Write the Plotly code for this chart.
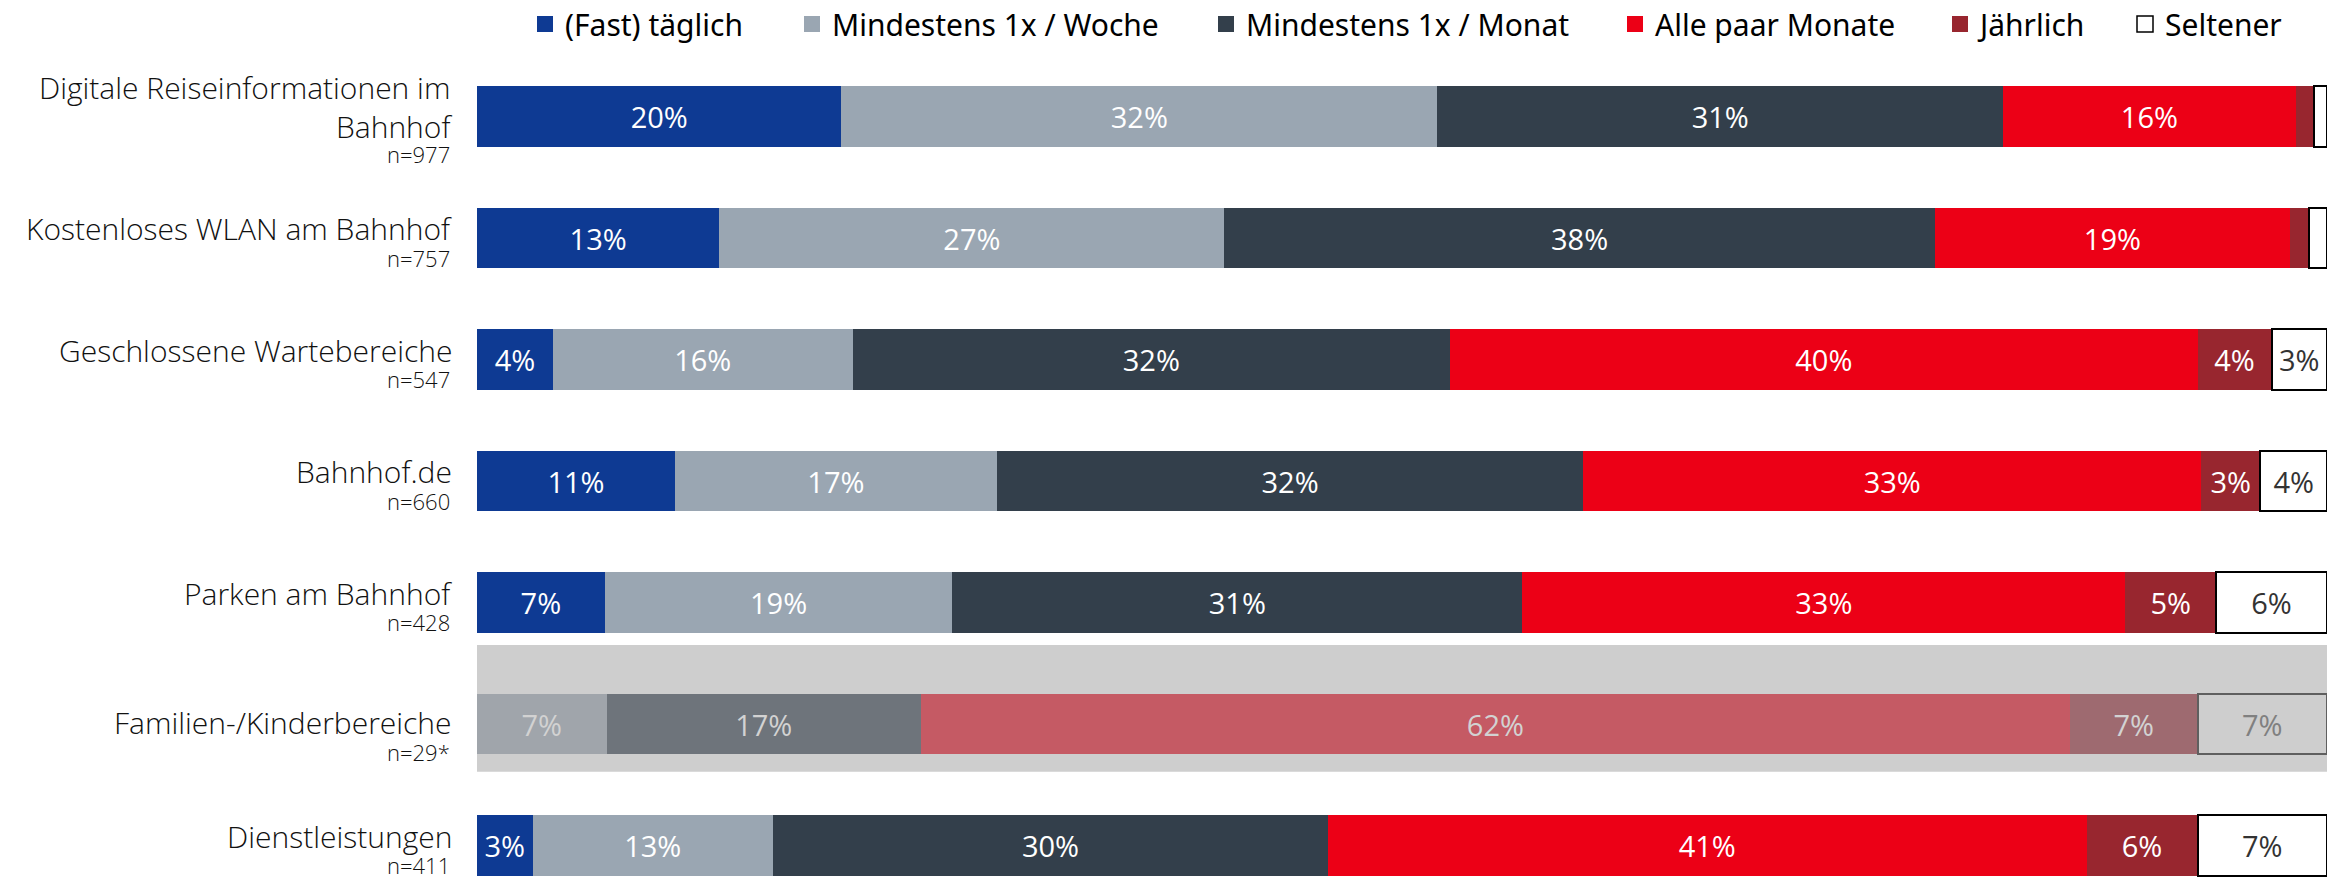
import plotly.graph_objects as go

# ---------------- data ----------------
categories = [
    "Digitale Reiseinformationen im<br>Bahnhof",
    "Kostenloses WLAN am Bahnhof",
    "Geschlossene Wartebereiche",
    "Bahnhof.de",
    "Parken am Bahnhof",
    "Familien-/Kinderbereiche",
    "Dienstleistungen",
]
sample_sizes = ["n=977", "n=757", "n=547", "n=660", "n=428", "n=29*", "n=411"]
series_names = ["(Fast) täglich", "Mindestens 1x / Woche", "Mindestens 1x / Monat",
                "Alle paar Monate", "Jährlich", "Seltener"]
taeglich = [19.7, 13.1, 4.1, 10.7, 6.9, 0.0, 3.0]
woche = [32.2, 27.3, 16.2, 17.4, 18.8, 7.0, 13.0]
monat = [30.6, 38.4, 32.3, 31.7, 30.8, 17.0, 30.0]
monate = [15.8, 19.2, 40.4, 33.4, 32.6, 62.1, 41.0]
jaehrlich = [1.0, 1.0, 4.0, 3.2, 4.9, 6.9, 6.0]
seltener = [0.7, 1.0, 3.0, 3.6, 6.0, 7.0, 7.0]
low_base_row = 5  # small sample (n<30), shown greyed out

series_values = [taeglich, woche, monat, monate, jaehrlich, seltener]

# ---------------- styles ----------------
colors = ["#0E3A93", "#9AA6B2", "#333F4B", "#EC0016", "#98262F", "#FFFFFF"]
dim_colors = ["#8A96B6", "#A0A5AB", "#6E747B", "#C55A64", "#9E6A70", "#CECECE"]
text_colors = ["#FFFFFF", "#FFFFFF", "#FFFFFF", "#FFFFFF", "#FFFFFF", "#333333"]
dim_text_colors = ["#D2D2D2", "#D2D2D2", "#D2D2D2", "#D2D2D2", "#D2D2D2", "#808080"]
legend_centers = [545, 812, 1226, 1635, 1960, 2145]  # px, symbol centres

W, H = 2341, 881
ML, MR, MT, MB = 477, 14, 60, 0
ROW_PX = 121.5
first_center = 116.5
top_units = (first_center - MT) / ROW_PX
bottom_units = -top_units + (H - MT - MB) / ROW_PX

ypos = list(range(len(categories)))

fig = go.Figure()
for k, (name, vals) in enumerate(zip(series_names, series_values)):
    mc = [dim_colors[k] if i == low_base_row else colors[k] for i in ypos]
    tc = [dim_text_colors[k] if i == low_base_row else text_colors[k] for i in ypos]
    if k == 5:
        lc = ["#5F5F5F" if i == low_base_row else "#000000" for i in ypos]
        lw = 2
    else:
        lc = mc
        lw = 0
    texts = [f"{round(v)}%" if v >= 2 else "" for v in vals]
    fig.add_trace(go.Bar(
        name=name,
        x=vals,
        y=ypos,
        orientation="h",
        width=0.494,
        marker=dict(color=mc, line=dict(color=lc, width=lw)),
        text=texts,
        textposition="inside",
        insidetextanchor="middle",
        textangle=0,
        textfont=dict(family="Open Sans", size=29, color=tc),
        hoverinfo="skip",
        showlegend=False,
        cliponaxis=False,
    ))

# legend entries (larger square symbols than bar legends allow)
for k, name in enumerate(series_names):
    fig.add_trace(go.Scatter(
        name=name, x=[None], y=[None], mode="markers",
        marker=dict(symbol="square", size=16, color=colors[k],
                    line=dict(color="#000000", width=1.5 if k == 5 else 0)),
        hoverinfo="skip",
        legend="legend" if k == 0 else f"legend{k + 1}",
    ))

# grey band behind the low-base row
fig.add_shape(type="rect", xref="paper", yref="y", x0=0, x1=1,
              y0=low_base_row - 79 / ROW_PX, y1=low_base_row + 47.7 / ROW_PX,
              fillcolor="#CECECE", line=dict(width=0), layer="below")

# category labels + sample sizes
for i, (cat, n) in enumerate(zip(categories, sample_sizes)):
    nl = cat.count("<br>") + 1
    extra = 8 if i == low_base_row else 0
    n_off = 5 + ((nl - 1) * 36 + 29) / 2 + extra
    main_off = n_off - 29 - (nl - 1) * 36 / 2
    fig.add_annotation(text=cat, xref="paper", x=0, xanchor="right", xshift=-23,
                       yref="y", y=i, yanchor="middle", yshift=-main_off,
                       align="right", showarrow=False,
                       font=dict(family="Open Sans", size=30, color="#111111", weight=300))
    fig.add_annotation(text=n, xref="paper", x=0, xanchor="right", xshift=-25,
                       yref="y", y=i, yanchor="middle", yshift=-n_off,
                       align="right", showarrow=False,
                       font=dict(family="Open Sans", size=22, color="#111111", weight=300))

layout_legends = {}
for k, c in enumerate(legend_centers):
    key = "legend" if k == 0 else f"legend{k + 1}"
    layout_legends[key] = dict(
        orientation="h", xref="container", yref="container",
        x=(c - 20) / W, xanchor="left", y=1 - 24 / H, yanchor="middle",
        font=dict(family="Noto Sans", size=30, color="#000000"),
        bgcolor="rgba(0,0,0,0)", borderwidth=0,
        traceorder="normal",
    )

fig.update_layout(
    width=W, height=H,
    barmode="stack",
    plot_bgcolor="#FFFFFF", paper_bgcolor="#FFFFFF",
    margin=dict(l=ML, r=MR, t=MT, b=MB, pad=0),
    xaxis=dict(range=[0, 100], visible=False, fixedrange=True),
    yaxis=dict(range=[bottom_units, -top_units], visible=False, fixedrange=True),
    showlegend=True,
    **layout_legends,
)

fig.write_html("out.html", config={"displayModeBar": False},
               post_script="document.body.style.margin='0';")
